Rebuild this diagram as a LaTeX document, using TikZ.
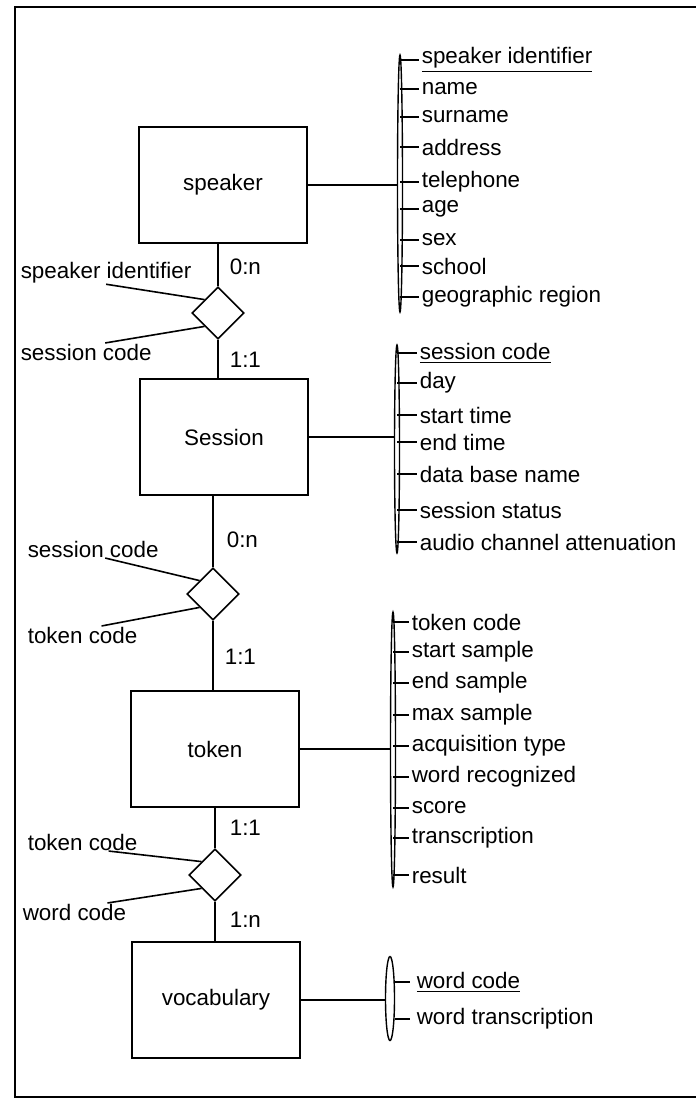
\documentclass[tikz,border=0pt]{standalone}
\usepackage{fontspec}
\setmainfont{Liberation Sans}
\usetikzlibrary{calc}
\usetikzlibrary{shapes.geometric}
\tikzstyle{entnode} = [draw, rectangle, minimum width=84pt, minimum height=58pt, line width=0.9pt]
\tikzstyle{relnode} = [draw, diamond, aspect=1, minimum size=26pt, inner sep=0]
\tikzstyle{attrbar} = [draw, ellipse, minimum width=2.5pt, inner sep=0, line width=0.7pt]
\tikzstyle{attrtext} = [anchor=west, inner sep=1pt]
\tikzstyle{lbltext} = [anchor=west, inner sep=0]

\begin{document}
\begin{tikzpicture}[x=0.5pt, y=-0.5pt, line width=0.8pt, font=\fontsize{11.2pt}{13pt}\selectfont]
\useasboundingbox (0,0) rectangle (696,1099);
\draw[line width=1pt] (700,7) -- (15,7) -- (15,1097) -- (700,1097);

\node[entnode] (speaker) at (223,185) {speaker};
\node[entnode] (session) at (224,437) {Session};
\node[entnode] (token) at (215,749) {token};
\node[entnode] (vocab) at (216,1000) {vocabulary};

\node[relnode] (hasses) at (218,313) {};
\node[relnode] (hastok) at (213,594) {};
\node[relnode] (isword) at (215,875) {};

\draw (speaker.south -| hasses.north) -- (hasses.north);
\draw (hasses.south) -- (hasses.south |- session.north);
\draw (session.south -| hastok.north) -- (hastok.north);
\draw (hastok.south) -- (hastok.south |- token.north);
\draw (token.south -| isword.north) -- (isword.north);
\draw (isword.south) -- (isword.south |- vocab.north);

\node[lbltext] (card1) at ($(hasses.center)+(11,-46)$) {0:n};
\node[lbltext] (card2) at ($(hasses.center)+(11,47)$) {1:1};
\node[lbltext] (card3) at ($(hastok.center)+(13,-54)$) {0:n};
\node[lbltext] (card4) at ($(hastok.center)+(11,63)$) {1:1};
\node[lbltext] (card5) at ($(isword.center)+(14,-47)$) {1:1};
\node[lbltext] (card6) at ($(isword.center)+(14,45)$) {1:n};

\node[lbltext] (role1a) at ($(hasses.center)+(-198,-40)$) {speaker identifier};
\node[lbltext] (role1b) at ($(hasses.center)+(-198,39)$) {session code};
\node[lbltext] (role2a) at ($(hastok.center)+(-186,-45)$) {session code};
\node[lbltext] (role2b) at ($(hastok.center)+(-186,41)$) {token code};
\node[lbltext] (role3a) at ($(isword.center)+(-188,-33)$) {token code};
\node[lbltext] (role3b) at ($(isword.center)+(-193,37)$) {word code};
\draw (role1a.south) -- (hasses.north west);
\draw ($(role1b.north)+(19,0)$) -- (hasses.south west);
\draw ($(role2a.south)+(12,0)$) -- (hastok.north west);
\draw ($(role2b.north)+(19,0)$) -- (hastok.south west);
\draw ($(role3a.south)+(26,0)$) -- (isword.north west);
\draw ($(role3b.north)+(33,0)$) -- (isword.south west);

\node[attrbar, minimum height=128.5pt] (spkbar) at (400,183.5) {};
\draw (speaker.east) -- (speaker.east -| spkbar.west);
\foreach \yy/\txt [count=\i] in {60/\underline{speaker identifier}, 89/name, 117/surname, 147/address, 182/telephone, 209/age, 240/sex, 266/school, 297/geographic region} {
  \node[attrtext] (spk\i) at (419,\yy) {\txt};
  \draw (spk\i.west -| spkbar.center) -- (spk\i.west);
}

\node[attrbar, minimum height=104pt] (sesbar) at (397,449) {};
\draw (session.east) -- (session.east -| sesbar.west);
\foreach \yy/\txt [count=\i] in {353/\underline{session code}, 383/day, 415/start time, 442/end time, 474/data base name, 510/session status, 542/audio channel attenuation} {
  \node[attrtext] (ses\i) at (417,\yy) {\txt};
  \draw (ses\i.west -| sesbar.center) -- (ses\i.west);
}

\node[attrbar, minimum height=137.5pt] (tokbar) at (393,749.5) {};
\draw (token.east) -- (token.east -| tokbar.west);
\foreach \yy/\txt [count=\i] in {622/token code, 652/start sample, 683/end sample, 715/max sample, 746/acquisition type, 777/word recognized, 808/score, 838/transcription, 875/result} {
  \node[attrtext] (tok\i) at (409,\yy) {\txt};
  \draw (tok\i.west -| tokbar.center) -- (tok\i.west);
}

\node[attrbar, minimum height=42pt, minimum width=4.5pt] (vocbar) at (390,998.5) {};
\draw (vocab.east) -- (vocab.east -| vocbar.west);
\foreach \yy/\txt [count=\i] in {982/\underline{word code}, 1019/word transcription} {
  \node[attrtext] (voc\i) at (414,\yy) {\txt};
  \draw (vocbar.east |- voc\i.west) -- ($(voc\i.west)+(-4,0)$);
}
\end{tikzpicture}
\end{document}
